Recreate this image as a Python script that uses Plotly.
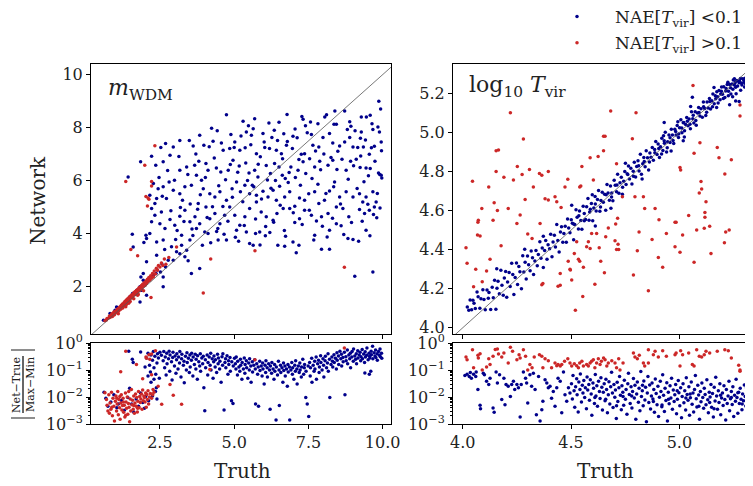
import plotly.graph_objects as go

FONT = "DejaVu Serif"
BLUE = "#00008b"
RED = "#cc2727"

# ---------------- data ----------------
# Top-left: m_WDM  (truth, network), coloured by NAE[T_vir]
mwdm_lo = [
(4.74,8.49),(5.30,8.24),(5.69,8.34),(5.64,7.96),(5.41,7.84),(5.58,7.71),(6.78,8.5),(6.51,8.2),(7.32,8.32),(7.40,8.07),
(7.60,7.74),(7.82,8.15),(8.36,8.13),(8.39,8.63),(8.72,8.63),(8.89,8.22),(9.28,8.40),(9.45,8.40),(9.64,8.15),(9.67,7.93),
(9.87,9.0),(9.89,7.84),(9.95,7.46),(4.24,7.98),(3.62,7.31),(2.95,7.27),(2.69,7.40),(2.53,7.25),(3.17,7.52),(3.49,7.52),
(3.84,7.71),(4.29,7.49),(4.63,7.15),(4.85,7.21),(4.89,7.74),(5.0,7.25),(5.19,7.15),(5.37,7.24),(5.75,7.02),(5.88,6.90),
(6.03,7.25),(6.19,7.21),(6.42,7.15),(6.59,7.02),(6.76,7.34),(6.96,7.21),(7.18,6.80),(7.26,7.0),(7.37,7.02),(7.65,7.34),
(7.99,7.63),(8.21,7.78),(8.32,7.42),(8.55,7.31),(8.72,7.46),(8.89,7.63),(9.00,7.27),(9.16,7.25),(9.35,7.27),(9.55,7.0),
(9.72,7.30),(9.28,7.84),(8.44,8.13),(7.85,7.27),(6.98,7.68),(5.97,7.78),(5.02,7.46),(3.98,7.34),(2.61,6.71),(2.84,6.96),
(2.22,6.92),(3.17,6.39),(3.40,6.52),(3.81,6.73),(4.05,6.65),(4.12,6.39),(4.40,6.48),(4.55,6.33),(4.80,6.39),(4.96,6.77),
(5.17,6.55),(5.39,6.67),(5.50,6.29),(5.69,6.39),(5.80,6.14),(6.08,6.57),(6.22,6.27),(6.36,6.65),(6.51,6.52),(6.62,6.21),
(6.72,6.08),(6.85,6.31),(7.15,6.39),(7.32,6.71),(7.54,6.83),(7.71,6.52),(7.88,6.73),(8.16,6.58),(8.32,6.77),(8.46,6.42),
(8.77,6.39),(8.92,6.73),(9.11,6.81),(9.24,6.50),(9.44,6.48),(9.58,6.46),(9.86,6.29),(9.95,6.21),(9.90,6.23),(2.28,5.89),
(2.44,5.70),(2.39,5.33),(2.61,5.77),(2.72,5.33),(2.95,5.64),(3.17,5.51),(3.34,5.77),(3.56,5.83),(3.73,6.21),(3.90,6.02),
(3.96,5.70),(3.79,5.14),(4.05,5.01),(4.18,5.51),(4.35,5.39),(4.52,5.58),(4.74,5.26),(4.93,5.70),(5.08,5.95),(5.21,5.58),
(5.36,5.83),(5.52,5.51),(5.66,5.77),(5.75,5.45),(5.97,5.60),(6.14,5.39),(6.31,5.64),(6.42,5.26),(6.53,5.79),(6.70,5.39),
(6.87,5.58),(7.04,5.04),(7.20,5.35),(7.37,5.26),(7.51,5.51),(7.71,5.58),(7.85,5.14),(8.04,5.26),(8.21,5.61),(8.35,5.77),
(8.55,5.39),(8.77,5.58),(9.0,5.39),(9.22,5.51),(9.33,5.20),(9.44,5.39),(9.67,5.58),(9.78,5.20),(9.55,4.89),(9.39,4.76),
(9.22,4.91),(9.72,5.01),(9.50,5.11),(8.66,4.95),(8.86,4.64),(8.44,5.01),(8.16,4.76),(7.94,4.64),(7.77,4.48),(7.60,4.70),
(7.37,4.89),(7.20,4.57),(7.04,4.42),(6.87,4.95),(6.65,4.95),(6.44,4.76),(6.31,4.51),(6.08,4.64),(5.91,4.82),(5.75,5.20),
(5.52,4.95),(5.36,4.64),(5.19,4.32),(5.02,4.70),(4.85,5.01),(4.68,4.70),(4.52,4.38),(4.35,4.76),(4.18,4.57),(4.01,4.07),
(3.84,4.38),(3.68,4.64),(3.51,4.45),(3.34,4.89),(3.17,4.66),(3.0,4.32),(2.84,4.54),(2.67,4.20),(2.50,4.38),(2.33,4.70),
(2.22,4.45),(2.16,4.01),(2.05,3.82),(2.22,4.95),(2.33,5.14),(2.16,5.45),(2.03,3.94),(1.96,3.67),(2.39,3.69),(2.61,3.76),
(2.89,3.51),(3.23,3.94),(3.51,3.76),(3.73,4.20),(4.12,4.01),(4.46,3.76),(4.74,3.76),(5.08,4.13),(5.41,4.07),(5.52,3.63),
(5.64,3.57),(5.86,4.07),(6.47,3.57),(6.73,3.91),(6.98,3.69),(7.09,3.28),(7.18,3.57),(7.71,3.94),(7.94,3.42),(8.21,4.13),
(8.44,4.38),(8.83,3.82),(9.0,3.78),(9.44,4.13),(9.67,2.56),(9.06,2.40),(8.21,3.42),(6.70,3.53),(6.05,3.92),(5.72,4.01),
(3.17,3.25),(3.34,3.13),(3.45,2.98),(3.40,3.38),(3.23,3.57),(3.06,3.32),(2.95,3.0),(2.78,3.0),(2.69,2.75),(2.56,2.88),
(2.41,2.63),(2.37,2.50),(2.61,2.37),(2.52,2.56),(2.28,2.44),(2.39,3.19),(2.05,2.94),(1.94,2.50),(1.86,2.37),(1.94,2.25),
(2.11,2.25),(1.83,2.0),(1.72,1.87),(1.88,1.87),(1.58,1.75),(1.49,1.62),(1.83,1.43),(2.05,1.68),(1.38,1.43),(1.04,1.24),
(0.82,0.99),(0.60,0.74),(0.99,1.12),(1.60,3.50),(1.43,6.14),(1.85,6.71),(1.57,3.98),(2.61,2.0),(3.84,2.69),(3.56,2.50),
(6.35,7.90),(7.05,7.95),(8.05,8.40),(9.25,7.60),(9.93,8.70),(9.97,6.10),(9.80,4.60),(8.60,4.30),(6.20,4.05),(4.45,4.20),
(2.47,6.12),(2.58,5.41),(2.76,6.38),(2.87,4.87),(2.99,6.02),(3.08,4.12),(3.14,6.91),(3.26,5.26),(3.31,4.46),(3.44,6.23),
(3.52,5.12),(3.61,3.93),(3.67,6.58),(3.77,4.92),(3.86,5.47),(3.93,3.57),(4.03,6.12),(4.09,4.61),(4.16,7.28),(4.27,5.02),
(4.33,6.86),(4.41,4.08),(4.48,5.81),(4.57,7.42),(4.62,5.03),(4.71,6.04),(4.79,4.47),(4.87,6.61),(4.94,5.38),(5.04,3.87),
(5.12,6.32),(5.23,7.69),(5.29,5.21),(5.34,4.31),(5.45,6.01),(5.56,7.36),(5.61,5.83),(5.72,4.56),(5.81,6.62),(5.92,5.31),
(6.01,7.46),(6.06,4.27),(6.12,6.03),(6.24,5.72),(6.27,7.63),(6.33,4.43),(6.39,6.01),(6.46,7.52),(6.55,5.07),(6.63,6.83),
(6.69,4.12),(6.79,7.48),(6.82,5.93),(6.91,6.52),(6.99,4.79),(7.06,6.12),(7.12,7.62),(7.23,5.83),(7.29,4.35),(7.41,6.27),
(7.46,7.81),(7.53,4.89),(7.62,6.08),(7.68,3.76),(7.74,7.12),(7.82,5.87),(7.91,6.41),(7.97,4.28),(8.02,7.01),(8.09,5.52),
(8.13,3.88),(8.26,6.87),(8.31,4.58),(8.38,5.95),(8.49,7.11),(8.58,5.12),(8.63,6.81),(8.69,3.97),(8.81,7.93),(8.84,6.05),
(8.95,4.42),(9.02,6.56),(9.07,7.88),(9.14,5.71),(9.19,3.72),(9.26,6.93),(9.31,4.47),(9.37,5.96),(9.42,7.53),(9.52,6.19),
(9.57,3.92),(9.62,7.24),(9.69,4.73),(9.74,6.73),(9.82,5.52),(9.84,8.02),(9.91,4.97),(9.96,7.13),(2.36,6.58),(2.55,4.82),
(2.66,3.41),(2.81,5.95),(3.03,3.78),(3.19,4.99),(3.58,4.18),(3.71,7.01),(4.21,3.66),(4.43,7.88),(4.66,3.98),(5.15,3.72),
(5.48,8.07),(5.87,3.58),(6.17,8.18),(6.67,7.77),(7.28,8.42),(7.57,8.21),(8.11,8.49),(8.93,8.05),(9.58,8.47),
]
mwdm_hi = [
(0.65,0.72),(0.70,0.75),(0.72,0.80),(0.78,0.82),(0.80,0.90),(0.83,0.85),(0.86,0.93),(0.88,0.98),(0.90,0.88),(0.93,1.00),
(0.95,1.05),(0.97,0.95),(1.00,1.08),(1.02,1.02),(1.05,1.12),(1.07,1.15),(1.08,1.05),(1.10,1.18),(1.12,1.10),(1.14,1.22),
(1.16,1.25),(1.18,1.15),(1.20,1.30),(1.22,1.24),(1.24,1.35),(1.25,1.20),(1.27,1.32),(1.29,1.40),(1.30,1.28),(1.32,1.45),
(1.34,1.38),(1.36,1.48),(1.37,1.33),(1.39,1.52),(1.40,1.42),(1.42,1.55),(1.44,1.47),(1.46,1.60),(1.47,1.50),(1.49,1.62),
(1.50,1.45),(1.52,1.66),(1.54,1.58),(1.56,1.70),(1.58,1.62),(1.60,1.73),(1.62,1.55),(1.63,1.78),(1.65,1.70),(1.67,1.82),
(1.69,1.75),(1.71,1.86),(1.73,1.78),(1.75,1.90),(1.77,1.72),(1.79,1.95),(1.81,1.85),(1.83,1.98),(1.85,1.90),(1.88,2.05),
(1.90,1.95),(1.92,2.10),(1.95,2.02),(1.97,2.15),(2.00,2.05),(2.03,2.22),(2.05,2.12),(2.08,2.28),(2.10,2.20),(2.13,2.35),
(2.16,2.25),(2.19,2.42),(2.22,2.32),(2.25,2.50),(2.28,2.38),(2.31,2.60),(2.35,2.48),(2.38,2.70),(2.42,2.62),(2.45,2.80),
(2.50,2.75),(2.55,2.90),(2.60,2.80),(2.65,3.05),(1.10,0.98),(0.92,0.92),(1.45,1.38),(1.95,1.85),(1.35,1.25),(1.75,1.68),
(1.35,5.97),(1.99,6.58),(2.33,7.32),(2.22,5.97),(2.22,5.80),(2.13,5.30),(2.08,5.05),(2.03,5.40),(2.10,5.35),(1.52,3.41),
(1.75,3.17),(4.21,3.05),(5.70,3.36),(3.96,1.77),(8.71,2.74),(2.20,1.60),(3.06,3.50),(2.70,2.85),(2.80,3.10),
]

# Top-right: log10 T_vir (truth, network)
tvir_lo = [
(4.021,4.106),(4.028,4.090),(4.034,4.142),(4.041,4.092),(4.047,4.141),(4.052,4.125),(4.058,4.099),(4.066,4.183),(4.071,4.159),(4.079,4.100),
(4.084,4.148),(4.093,4.195),(4.098,4.145),(4.104,4.092),(4.112,4.193),(4.118,4.151),(4.121,4.180),(4.129,4.094),(4.136,4.207),(4.141,4.153),
(4.147,4.243),(4.153,4.095),(4.158,4.202),(4.163,4.238),(4.169,4.174),(4.176,4.294),(4.181,4.217),(4.187,4.166),(4.192,4.254),(4.198,4.288),
(4.203,4.156),(4.207,4.234),(4.214,4.283),(4.219,4.211),(4.226,4.330),(4.231,4.272),(4.236,4.170),(4.242,4.257),(4.248,4.331),(4.253,4.222),
(4.259,4.314),(4.264,4.286),(4.271,4.199),(4.277,4.368),(4.282,4.285),(4.288,4.335),(4.293,4.249),(4.299,4.367),(4.304,4.322),(4.311,4.292),
(4.316,4.393),(4.322,4.358),(4.327,4.273),(4.333,4.342),(4.338,4.396),(4.344,4.317),(4.349,4.375),(4.356,4.440),(4.361,4.356),(4.367,4.408),
(4.372,4.309),(4.378,4.395),(4.383,4.446),(4.389,4.351),(4.394,4.425),(4.401,4.404),(4.406,4.478),(4.412,4.363),(4.417,4.439),(4.423,4.474),
(4.428,4.413),(4.434,4.528),(4.439,4.447),(4.445,4.388),(4.451,4.490),(4.456,4.517),(4.462,4.438),(4.467,4.482),(4.473,4.519),(4.478,4.437),
(4.484,4.557),(4.489,4.510),(4.495,4.486),(4.501,4.553),(4.506,4.535),(4.512,4.450),(4.517,4.528),(4.523,4.604),(4.528,4.565),(4.534,4.506),
(4.539,4.597),(4.545,4.549),(4.550,4.504),(4.556,4.622),(4.561,4.585),(4.567,4.554),(4.572,4.619),(4.578,4.661),(4.583,4.550),(4.589,4.607),
(4.594,4.636),(4.600,4.548),(4.605,4.613),(4.611,4.672),(4.616,4.597),(4.622,4.656),(4.627,4.703),(4.633,4.596),(4.638,4.651),(4.644,4.693),
(4.649,4.643),(4.655,4.683),(4.660,4.602),(4.666,4.733),(4.671,4.690),(4.677,4.652),(4.682,4.726),(4.688,4.690),(4.693,4.650),(4.699,4.755),
(4.704,4.729),(4.710,4.696),(4.715,4.786),(4.721,4.689),(4.726,4.742),(4.732,4.770),(4.737,4.683),(4.743,4.750),(4.748,4.800),(4.754,4.733),
(4.759,4.788),(4.765,4.828),(4.770,4.762),(4.776,4.817),(4.781,4.736),(4.787,4.801),(4.792,4.847),(4.798,4.771),(4.803,4.825),(4.809,4.855),
(4.814,4.802),(4.820,4.888),(4.825,4.786),(4.831,4.840),(4.836,4.871),(4.842,4.824),(4.847,4.906),(4.853,4.870),(4.858,4.807),(4.864,4.895),
(4.869,4.873),(4.875,4.923),(4.880,4.857),(4.886,4.912),(4.891,4.953),(4.897,4.887),(4.902,4.941),(4.908,4.872),(4.913,4.926),(4.919,4.970),
(4.924,4.907),(4.930,4.957),(4.935,5.001),(4.941,4.899),(4.946,4.952),(4.952,4.986),(4.957,4.948),(4.963,5.016),(4.968,4.987),(4.974,4.943),
(4.979,5.016),(4.985,4.987),(4.990,5.035),(4.996,4.974),(5.001,5.024),(5.007,5.065),(5.012,4.998),(5.018,5.049),(5.023,4.976),(5.029,5.040),
(5.034,5.076),(5.040,5.034),(5.045,5.069),(5.051,5.018),(5.056,5.105),(5.062,5.070),(5.067,5.048),(5.073,5.106),(5.078,5.037),(5.084,5.099),
(5.089,5.127),(5.095,5.084),(5.100,5.121),(5.106,5.078),(5.111,5.155),(5.117,5.122),(5.122,5.086),(5.128,5.155),(5.133,5.125),(5.139,5.174),
(5.144,5.120),(5.150,5.162),(5.155,5.196),(5.161,5.146),(5.166,5.188),(5.172,5.127),(5.177,5.183),(5.183,5.214),(5.188,5.167),(5.194,5.211),
(5.199,5.195),(5.205,5.233),(5.210,5.178),(5.216,5.225),(5.221,5.245),(5.227,5.210),(5.232,5.245),(5.238,5.197),(5.243,5.247),(5.249,5.268),
(5.254,5.242),(5.260,5.231),(5.265,5.266),(5.271,5.263),(5.276,5.254),(5.282,5.276),(5.287,5.252),(5.293,5.275),(5.298,5.257),(5.304,5.277),
(5.309,5.258),(5.315,5.281),(5.318,5.260),
(5.112,5.131),(5.126,5.103),(5.141,5.158),(5.153,5.131),(5.168,5.172),(5.179,5.151),(5.191,5.196),(5.203,5.174),(5.214,5.212),(5.226,5.188),
(5.236,5.229),(5.247,5.221),(5.258,5.255),(5.269,5.238),(5.278,5.262),(5.289,5.243),(5.297,5.268),(5.306,5.249),(5.312,5.271),(5.246,5.182),
(5.283,5.215),(5.301,5.232),(5.262,5.198),(5.224,5.257),(5.195,5.232),(5.232,5.142),(5.276,5.158),(5.311,5.225),(5.254,5.274),(5.173,5.208),
(4.905,4.918),(4.918,4.889),(4.931,4.944),(4.944,4.921),(4.957,4.972),(4.971,4.959),(4.983,5.004),(4.997,4.992),(5.011,5.023),(5.024,5.008),
(5.037,5.057),(5.049,5.041),(5.064,5.088),(5.076,5.061),(5.091,5.102),(4.962,4.905),(5.018,4.957),(5.052,5.132),(4.993,5.054),(4.927,4.983),
(4.512,4.531),(4.536,4.573),(4.561,4.548),(4.586,4.592),(4.612,4.633),(4.636,4.618),(4.662,4.681),(4.687,4.669),(4.712,4.731),(4.738,4.719),
(4.762,4.784),(4.788,4.776),(4.812,4.829),(4.838,4.851),(4.862,4.848),(4.887,4.896),(4.598,4.681),(4.684,4.612),(4.751,4.842),(4.828,4.761),
(4.503,4.627),(4.372,4.468),(4.286,4.402),(4.612,4.521),(4.157,4.302),(4.93,5.05),(5.02,5.05),(5.06,5.18),(5.16,5.23),(5.26,5.16),
]
tvir_hi = [
(4.015,4.41),(4.02,4.33),(4.045,4.75),(4.05,4.21),(4.06,4.30),(4.068,4.475),(4.07,4.54),(4.072,4.55),(4.08,4.47),(4.088,4.61),
(4.09,4.235),(4.11,4.29),(4.12,4.72),(4.126,4.35),(4.14,4.55),(4.145,4.64),(4.154,4.906),(4.165,4.91),(4.154,4.80),(4.16,4.60),
(4.177,4.42),(4.19,4.77),(4.21,4.61),(4.22,5.10),(4.234,4.756),(4.25,4.534),(4.252,4.825),(4.265,4.577),(4.274,4.785),(4.28,4.966),
(4.288,4.657),(4.30,4.48),(4.308,4.81),(4.32,4.457),(4.326,4.72),(4.354,4.79),(4.357,4.534),(4.365,4.78),(4.365,4.22),(4.37,4.227),
(4.38,4.66),(4.395,4.80),(4.395,4.654),(4.426,4.67),(4.434,4.645),(4.44,4.213),(4.45,4.278),(4.45,4.218),(4.454,4.616),(4.472,4.72),
(4.485,4.76),(4.487,4.34),(4.495,4.30),(4.497,4.295),(4.503,4.244),(4.515,4.38),(4.52,4.09),(4.526,4.44),(4.534,4.35),(4.54,4.72),
(4.545,4.725),(4.54,4.34),(4.55,4.825),(4.554,4.16),(4.557,4.31),(4.572,4.415),(4.58,4.44),(4.588,4.406),(4.588,4.87),(4.595,4.483),
(4.603,4.756),(4.61,4.223),(4.618,4.483),(4.625,4.876),(4.63,4.41),(4.637,4.341),(4.65,4.906),(4.65,4.98),(4.657,4.98),(4.654,4.282),
(4.66,4.466),(4.672,4.51),(4.683,5.11),(4.703,4.445),(4.706,4.531),(4.71,4.84),(4.71,4.40),(4.715,4.56),(4.717,4.427),(4.72,4.40),
(4.737,4.67),(4.783,4.968),(4.788,4.27),(4.795,4.67),(4.80,5.10),(4.806,4.394),(4.814,4.49),(4.834,4.67),(4.84,4.61),(4.857,4.19),
(4.874,4.452),(4.888,4.61),(4.903,4.36),(4.906,4.553),(4.923,4.31),(4.94,4.483),(4.98,4.54),(4.985,4.54),(4.98,4.415),(5.003,4.386),
(5.003,4.82),(5.006,4.807),(5.015,4.475),(5.043,4.574),(5.068,4.893),(5.068,4.335),(5.08,4.50),(5.092,4.69),(5.095,4.947),(5.10,4.748),
(5.103,4.71),(5.115,4.509),(5.118,4.59),(5.118,4.565),(5.123,4.645),(5.14,4.52),(5.146,4.38),(5.175,4.923),(5.183,4.87),(5.21,4.787),
(5.208,4.435),(5.214,4.49),(5.23,4.50),(5.24,4.86),(5.063,5.24),(5.28,5.084),(5.28,5.14),
]

# Bottom-left: m_WDM residual |Net-True|/(Max-Min)
mres_lo = [
(0.62,0.015),(0.68,0.009),(0.75,0.0045),(0.85,0.0065),(0.95,0.012),(1.05,0.004),(1.20,0.0075),(1.30,0.0032),(1.42,0.0095),(1.55,0.0055),
(1.62,0.0028),(1.70,0.0085),(1.78,0.0045),(1.85,0.014),(1.92,0.0062),(2.02,0.0105),(1.48,0.021),(1.10,0.0055),(1.98,0.0038),(2.12,0.0072),
(2.25,0.011),(2.35,0.016),(2.40,0.0085),
(1.45,0.50),(1.85,0.46),(1.57,0.25),(1.60,0.19),(2.05,0.28),(2.1,0.42),(2.15,0.15),(2.18,0.085),(2.2,0.36),(2.25,0.23),
(2.28,0.48),(2.3,0.12),(2.33,0.32),(2.36,0.07),(2.4,0.18),(2.42,0.40),(2.45,0.28),(2.48,0.05),(2.5,0.45),(2.2,0.035),
(2.3,0.045),(2.38,0.022),(2.0,0.13),(2.1,0.06),
(2.55,0.35),(2.61,0.22),(2.63,0.48),(2.66,0.12),(2.68,0.30),(2.71,0.065),(2.73,0.42),(2.74,0.17),(2.79,0.26),(2.81,0.50),
(2.83,0.09),(2.84,0.36),(2.89,0.20),(2.91,0.043),(2.93,0.29),(2.94,0.45),(2.99,0.14),(3.01,0.33),(3.04,0.075),(3.06,0.24),
(3.07,0.40),(3.11,0.11),(3.13,0.30),(3.16,0.18),(3.17,0.48),(3.21,0.055),(3.23,0.26),(3.24,0.38),(3.29,0.15),(3.31,0.21),
(3.32,0.034),(3.36,0.32),(3.39,0.10),(3.41,0.44),(3.42,0.19),(3.46,0.27),(3.49,0.08),(3.51,0.36),(3.52,0.13),(3.56,0.23),
(3.57,0.42),(3.61,0.06),(3.62,0.30),(3.66,0.16),(3.69,0.38),(3.71,0.11),(3.72,0.25),(3.76,0.045),(3.77,0.34),(3.81,0.20),
(3.84,0.14),(3.86,0.40),(3.87,0.09),(3.91,0.28),(3.94,0.17),(3.96,0.32),(3.98,0.022),(4.01,0.0031),(4.03,0.24),(4.04,0.12),
(4.09,0.36),(4.11,0.065),(4.12,0.19),(4.16,0.30),(4.19,0.15),(4.21,0.42),(4.22,0.10),(4.26,0.26),(4.29,0.05),(4.31,0.20),
(4.32,0.33),(4.36,0.13),(4.37,0.24),(4.41,0.08),(4.44,0.38),(4.46,0.17),(4.47,0.28),(4.51,0.11),(4.52,0.21),(4.56,0.035),
(4.59,0.31),(4.61,0.15),(4.62,0.40),(4.66,0.0033),(4.69,0.19),(4.71,0.26),(4.72,0.12),(4.76,0.34),(4.79,0.07),(4.81,0.22),
(4.82,0.16),(4.86,0.29),(4.87,0.09),(4.91,0.0072),(4.92,0.20),(4.96,0.0058),(4.97,0.14),(5.01,0.27),
(5.04,0.17),(5.06,0.11),(5.07,0.30),(5.11,0.065),(5.12,0.21),(5.16,0.13),(5.19,0.09),(5.21,0.25),(5.22,0.15),(5.26,0.045),
(5.27,0.19),(5.31,0.11),(5.34,0.28),(5.36,0.075),(5.37,0.16),(5.41,0.22),(5.42,0.12),(5.46,0.05),(5.49,0.18),(5.51,0.10),
(5.52,0.26),(5.56,0.14),(5.57,0.035),(5.61,0.20),(5.62,0.085),(5.66,0.15),(5.69,0.24),(5.71,0.11),(5.72,0.0055),(5.76,0.17),
(5.79,0.07),(5.81,0.13),(5.82,0.0045),(5.86,0.21),(5.87,0.095),(5.91,0.14),(5.94,0.06),(5.96,0.18),(5.97,0.11),(6.01,0.03),
(6.04,0.15),(6.06,0.08),(6.07,0.22),(6.11,0.12),(6.12,0.055),(6.16,0.17),(6.19,0.10),(6.21,0.0035),(6.22,0.14),(6.26,0.075),
(6.27,0.19),(6.31,0.11),(6.34,0.045),(6.36,0.16),(6.37,0.09),(6.41,0.0014),(6.42,0.13),(6.46,0.065),(6.49,0.21),(6.51,0.10),
(6.52,0.0048),(6.56,0.15),(6.57,0.08),(6.61,0.12),(6.64,0.035),(6.66,0.18),(6.67,0.095),(6.71,0.14),(6.72,0.06),(6.76,0.11),
(6.79,0.025),(6.81,0.16),(6.82,0.085),(6.86,0.13),(6.87,0.0014),(6.91,0.10),(6.94,0.19),(6.96,0.07),(6.97,0.12),(7.01,0.045),
(7.04,0.15),(7.06,0.09),(7.07,0.22),(7.11,0.11),(7.12,0.03),(7.16,0.14),(7.19,0.08),(7.21,0.18),(7.22,0.10),(7.26,0.055),
(7.27,0.13),(7.31,0.25),(7.34,0.07),(7.36,0.12),(7.37,0.16),(7.41,0.0095),(7.42,0.09),(7.46,0.0055),(7.49,0.14),(7.51,0.0019),
(7.54,0.19),(7.56,0.06),(7.57,0.12),(7.61,0.27),(7.62,0.035),(7.66,0.15),(7.69,0.09),(7.71,0.21),(7.72,0.11),(7.76,0.30),
(7.77,0.045),(7.81,0.17),(7.84,0.23),(7.86,0.08),(7.87,0.13),(7.91,0.34),(7.92,0.19),(7.96,0.10),(7.99,0.26),(8.01,0.15),
(8.02,0.055),(8.06,0.22),(8.07,0.32),(8.11,0.12),(8.14,0.18),(8.16,0.40),(8.17,0.09),(8.21,0.25),(8.22,0.0095),(8.26,0.16),
(8.29,0.30),(8.31,0.21),(8.32,0.13),(8.36,0.37),(8.37,0.19),(8.41,0.27),(8.44,0.11),(8.46,0.44),(8.47,0.23),(8.51,0.33),
(8.52,0.16),(8.56,0.50),(8.59,0.26),(8.61,0.38),(8.62,0.14),(8.66,0.29),(8.67,0.20),(8.71,0.45),(8.73,0.012),(8.76,0.31),
(8.77,0.22),(8.81,0.55),(8.82,0.17),(8.86,0.36),(8.89,0.26),(8.91,0.42),(8.92,0.12),(8.96,0.30),(8.97,0.48),(9.01,0.21),
(9.02,0.60),(9.06,0.33),(9.09,0.25),(9.11,0.40),(9.12,0.17),(9.16,0.52),(9.17,0.28),(9.21,0.36),(9.24,0.45),(9.26,0.22),
(9.27,0.31),(9.31,0.58),(9.32,0.26),(9.36,0.39),(9.39,0.19),(9.41,0.47),(9.42,0.30),(9.46,0.35),(9.47,0.65),(9.51,0.24),
(9.54,0.42),(9.56,0.32),(9.57,0.28),(9.61,0.50),(9.62,0.37),(9.66,0.75),(9.67,0.26),(9.71,0.44),(9.74,0.33),(9.76,0.55),
(9.77,0.29),(9.81,0.40),(9.82,0.23),(9.86,0.48),(9.89,0.35),(9.91,0.60),(9.92,0.31),(9.96,0.42),(9.97,0.27),(9.6,0.09),
(9.55,0.07),(9.4,0.078),
]
mres_hi = [
(0.65,0.0145),(0.70,0.008),(0.72,0.005),(0.75,0.003),(0.78,0.012),(0.80,0.0025),(0.82,0.006),(0.85,0.0035),(0.87,0.015),(0.90,0.002),
(0.92,0.009),(0.95,0.0045),(0.97,0.0013),(1.00,0.007),(1.02,0.011),(1.04,0.003),(1.06,0.0055),(1.08,0.016),(1.10,0.0022),(1.12,0.008),
(1.14,0.004),(1.16,0.0015),(1.18,0.006),(1.20,0.012),(1.22,0.0033),(1.24,0.0048),(1.26,0.009),(1.28,0.0027),(1.30,0.005),(1.32,0.0018),
(1.34,0.014),(1.36,0.0065),(1.38,0.0038),(1.40,0.010),(1.42,0.0023),(1.44,0.0058),(1.46,0.0042),(1.48,0.0012),(1.50,0.0085),(1.52,0.003),
(1.54,0.019),(1.56,0.0052),(1.58,0.0075),(1.60,0.0035),(1.62,0.011),(1.64,0.0025),(1.66,0.006),(1.68,0.013),(1.70,0.0045),(1.72,0.0095),
(1.74,0.0028),(1.76,0.007),(1.78,0.016),(1.80,0.004),(1.82,0.0105),(1.84,0.0062),(1.86,0.0085),(1.88,0.013),(1.90,0.0035),(1.92,0.018),
(1.94,0.0072),(1.96,0.011),(1.98,0.0095),(2.00,0.0065),(2.02,0.014),(2.04,0.0042),(2.06,0.0125),(2.08,0.008),(2.10,0.017),(2.12,0.0055),
(2.15,0.01),(2.18,0.0135),(2.22,0.009),(2.26,0.012),(2.30,0.015),(1.05,0.009),(1.27,0.0065),(1.45,0.016),(0.88,0.0042),(1.15,0.0105),
(1.62,0.0048),(1.35,0.0021),(1.75,0.0038),
(1.35,0.49),(1.18,0.087),(1.71,0.16),(2.03,0.30),(2.13,0.37),(2.22,0.39),(2.35,0.52),(2.16,0.25),(2.22,0.066),(2.44,0.025),
(2.84,0.029),(2.95,0.0115),(4.18,0.105),(5.70,0.24),(8.71,0.65),(3.23,0.0054),(2.56,0.0054),(2.27,0.019),(2.05,0.27),(1.92,0.047),
]

# Bottom-right: T_vir residual
tres_lo = [
(4.01,0.062),(4.02,0.07),(4.03,0.058),(4.035,0.08),(4.04,0.05),(4.05,0.07),(4.06,0.058),(4.062,0.085),(4.07,0.019),(4.08,0.0049),
(4.082,0.0037),(4.095,0.075),(4.10,0.066),(4.11,0.038),(4.12,0.029),(4.126,0.05),(4.14,0.0039),(4.145,0.0027),(4.154,0.085),(4.16,0.033),
(4.17,0.066),(4.18,0.008),(4.19,0.05),(4.195,0.0052),(4.20,0.029),(4.21,0.025),(4.22,0.0105),(4.226,0.029),(4.234,0.038),(4.24,0.019),
(4.25,0.029),(4.257,0.022),(4.265,0.0018),(4.27,0.029),(4.28,0.085),(4.29,0.05),(4.295,0.033),(4.30,0.006),(4.31,0.066),(4.318,0.025),
(4.326,0.075),(4.334,0.019),(4.34,0.0022),(4.35,0.058),(4.357,0.0013),(4.365,0.0034),(4.37,0.007),(4.38,0.044),(4.388,0.033),(4.395,0.022),
(4.403,0.025),(4.41,0.009),(4.418,0.016),(4.426,0.0045),(4.434,0.022),(4.44,0.05),(4.45,0.038),(4.457,0.0026),(4.465,0.085),(4.472,0.012),
(4.48,0.007),(4.488,0.022),(4.495,0.014),
(4.502,0.031),(4.506,0.0085),(4.509,0.062),(4.514,0.017),(4.517,0.0042),(4.521,0.024),(4.526,0.047),(4.528,0.012),(4.533,0.0028),(4.536,0.036),
(4.541,0.019),(4.543,0.071),(4.548,0.0065),(4.552,0.027),(4.555,0.014),(4.559,0.041),(4.563,0.0095),(4.566,0.022),(4.571,0.0037),(4.574,0.055),
(4.577,0.018),(4.582,0.029),(4.585,0.0075),(4.589,0.044),(4.593,0.013),(4.596,0.0021),(4.601,0.033),(4.604,0.021),(4.608,0.0058),(4.612,0.068),
(4.615,0.011),(4.619,0.026),(4.622,0.0045),(4.627,0.038),(4.631,0.016),(4.634,0.0088),(4.638,0.052),(4.642,0.023),(4.645,0.0033),(4.649,0.015),
(4.653,0.031),(4.657,0.0072),(4.661,0.045),(4.664,0.019),(4.668,0.0026),(4.672,0.012),(4.675,0.037),(4.679,0.0055),(4.683,0.024),(4.687,0.082),
(4.691,0.014),(4.694,0.0041),(4.698,0.029),(4.702,0.0097),(4.705,0.018),(4.709,0.0016),(4.713,0.035),(4.716,0.0068),(4.721,0.022),(4.724,0.057),
(4.728,0.0115),(4.732,0.0034),(4.735,0.026),(4.739,0.015),(4.743,0.0049),(4.746,0.042),(4.751,0.0083),(4.754,0.019),(4.758,0.0023),(4.762,0.031),
(4.765,0.075),(4.769,0.0125),(4.773,0.0057),(4.777,0.024),(4.781,0.0039),(4.784,0.016),(4.788,0.048),(4.792,0.0092),(4.795,0.027),(4.799,0.0015),
(4.803,0.013),(4.806,0.036),(4.811,0.0064),(4.814,0.021),(4.818,0.0031),(4.822,0.088),(4.825,0.0105),(4.829,0.017),(4.833,0.0047),(4.836,0.039),
(4.841,0.0078),(4.844,0.023),(4.848,0.0012),(4.852,0.014),(4.855,0.058),(4.859,0.0062),(4.863,0.028),(4.867,0.0036),(4.871,0.011),(4.874,0.033),
(4.878,0.0085),(4.882,0.019),(4.885,0.0027),(4.889,0.046),(4.893,0.0135),(4.897,0.0052),(4.901,0.025),(4.904,0.0019),(4.908,0.0098),(4.912,0.038),
(4.915,0.016),(4.919,0.0044),(4.923,0.067),(4.927,0.0115),(4.931,0.0029),(4.934,0.021),(4.938,0.0074),(4.942,0.034),(4.945,0.0013),(4.949,0.015),
(4.953,0.0056),(4.957,0.026),(4.961,0.0091),(4.964,0.049),(4.968,0.0035),(4.972,0.018),(4.976,0.0068),(4.979,0.012),(4.983,0.029),(4.987,0.0024),
(4.991,0.0082),(4.995,0.041),(4.998,0.0145),(5.002,0.0047),(5.006,0.022),(5.01,0.0017),(5.013,0.0105),(5.017,0.031),(5.021,0.0061),(5.025,0.017),
(5.029,0.0033),(5.032,0.052),(5.036,0.0125),(5.04,0.0076),(5.044,0.024),(5.047,0.0021),(5.051,0.0094),(5.055,0.036),(5.059,0.0054),(5.063,0.014),
(5.066,0.0028),(5.07,0.019),(5.074,0.062),(5.078,0.0087),(5.081,0.0043),(5.085,0.027),(5.089,0.0118),(5.093,0.0015),(5.097,0.016),(5.1,0.0066),
(5.104,0.033),(5.108,0.0096),(5.112,0.0038),(5.115,0.021),(5.119,0.0125),(5.123,0.0052),(5.127,0.044),(5.131,0.0079),(5.134,0.0026),(5.138,0.015),
(5.142,0.0099),(5.146,0.029),(5.149,0.0042),(5.153,0.0135),(5.157,0.0018),(5.161,0.023),(5.165,0.0071),(5.168,0.054),(5.172,0.0108),(5.176,0.0035),
(5.18,0.017),(5.183,0.0063),(5.187,0.031),(5.191,0.0022),(5.195,0.0092),(5.199,0.014),(5.202,0.0048),(5.206,0.026),(5.21,0.0081),(5.214,0.0014),
(5.217,0.019),(5.221,0.0058),(5.225,0.011),(5.229,0.038),(5.232,0.0031),(5.236,0.0087),(5.24,0.016),(5.244,0.0053),(5.247,0.024),(5.251,0.0019),
(5.255,0.0115),(5.259,0.0069),(5.262,0.045),(5.266,0.0096),(5.27,0.0025),(5.274,0.015),(5.277,0.0057),(5.281,0.021),(5.285,0.0083),(5.289,0.0034),
(5.292,0.013),(5.296,0.0072),(5.3,0.028),(5.304,0.0105),(5.307,0.0046),(5.311,0.018),(5.315,0.0089),(5.318,0.035),(5.321,0.0125),(5.323,0.0064),
(4.61,0.0095),(4.71,0.0047),(4.83,0.027),(4.95,0.0083),(5.05,0.013),(5.14,0.0062),(5.24,0.0095),(5.31,0.022),(4.78,0.011),(4.88,0.0068),
(4.99,0.017),(5.09,0.0045),(5.19,0.0115),(5.29,0.0055),(4.66,0.0082),(4.74,0.0105),(4.92,0.0051),(5.03,0.0092),(5.16,0.0037),(5.27,0.0145),
]
tres_hi = [
(4.015,0.30),(4.02,0.24),(4.045,0.56),(4.05,0.12),(4.07,0.35),(4.072,0.28),(4.08,0.40),(4.09,0.10),(4.11,0.13),(4.12,0.26),
(4.126,0.16),(4.14,0.32),(4.15,0.57),(4.16,0.60),(4.165,0.39),(4.18,0.30),(4.19,0.43),(4.21,0.18),(4.22,0.69),(4.23,0.49),
(4.25,0.24),(4.26,0.37),(4.265,0.28),(4.28,0.56),(4.29,0.32),(4.30,0.10),(4.31,0.16),(4.32,0.12),(4.33,0.30),(4.354,0.37),
(4.365,0.32),(4.37,0.12),(4.38,0.26),(4.395,0.22),(4.41,0.12),(4.426,0.18),(4.434,0.145),(4.44,0.16),(4.45,0.14),(4.457,0.16),
(4.47,0.21),(4.485,0.26),(4.495,0.18),(4.503,0.14),(4.515,0.17),(4.526,0.145),(4.534,0.12),(4.54,0.18),(4.55,0.21),(4.557,0.14),
(4.572,0.16),(4.58,0.14),(4.588,0.18),(4.595,0.21),(4.603,0.24),(4.61,0.12),(4.618,0.18),(4.626,0.26),(4.634,0.16),(4.64,0.21),
(4.65,0.28),(4.657,0.24),(4.665,0.14),(4.672,0.18),(4.688,0.22),(4.703,0.18),(4.71,0.12),(4.72,0.26),(4.726,0.10),(4.788,0.43),
(4.795,0.30),(4.806,0.26),(4.815,0.35),(4.834,0.18),(4.84,0.14),(4.857,0.56),(4.88,0.37),(4.888,0.49),(4.903,0.30),(4.923,0.52),
(4.94,0.32),(4.98,0.37),(4.985,0.43),(5.003,0.14),(5.006,0.52),(5.015,0.37),(5.043,0.43),(5.068,0.14),(5.08,0.56),(5.092,0.32),
(5.103,0.30),(5.115,0.37),(5.123,0.49),(5.14,0.43),(5.175,0.49),(5.21,0.56),(5.226,0.52),(5.24,0.28),(5.274,0.15),(5.28,0.10),
(5.28,0.089),(5.06,0.16),(4.857,0.18),(4.74,0.18),
]

# tick values / labels
m_ticks = [2.5, 5.0, 7.5, 10.0]
m_ticktext = ["2.5", "5.0", "7.5", "10.0"]
m_yticks = [2, 4, 6, 8, 10]
t_ticks = [4.0, 4.5, 5.0]
t_ticktext = ["4.0", "4.5", "5.0"]
t_yticks = [4.0, 4.2, 4.4, 4.6, 4.8, 5.0, 5.2]
t_yticktext = ["4.0", "4.2", "4.4", "4.6", "4.8", "5.0", "5.2"]
res_ticks = [1e-3, 1e-2, 1e-1, 1]
res_ticktext = ["10<sup>−3</sup>", "10<sup>−2</sup>", "10<sup>−1</sup>", "10<sup>0</sup>"]
res_minor = [k * 10.0 ** e for e in (-3, -2, -1) for k in range(2, 10)]

M_RANGE_X = [0.18, 10.28]
M_RANGE_Y = [0.22, 10.4]
T_RANGE_X = [3.955, 5.34]
T_RANGE_Y = [3.968, 5.35]

# the page body adds an 8 px margin; the figure fills the rest of the window
OFF = 8
W, H = 753 - OFF, 486 - OFF


def xs(pairs):
    return [p[0] for p in pairs]


def ys(pairs):
    return [p[1] for p in pairs]


def fx(px):
    return (px - OFF) / W


def fy(py):
    return 1 - (py - OFF) / H


LO_NAME = "NAE[<i>T</i><sub>vir</sub>] &lt;0.1"
HI_NAME = "NAE[<i>T</i><sub>vir</sub>] &gt;0.1"
MS = 3.5

fig = go.Figure()

panels = [
    (mwdm_lo, mwdm_hi, "x", "y", True),
    (mres_lo, mres_hi, "x2", "y2", False),
    (tvir_lo, tvir_hi, "x3", "y3", False),
    (tres_lo, tres_hi, "x4", "y4", False),
]
for lo, hi, xa, ya, show in panels:
    fig.add_trace(go.Scatter(x=xs(lo), y=ys(lo), mode="markers", xaxis=xa, yaxis=ya,
                             marker=dict(color=BLUE, size=MS, line=dict(width=0)),
                             name=LO_NAME, legendgroup="lo", showlegend=show))
    fig.add_trace(go.Scatter(x=xs(hi), y=ys(hi), mode="markers", xaxis=xa, yaxis=ya,
                             marker=dict(color=RED, size=MS, line=dict(width=0)),
                             name=HI_NAME, legendgroup="hi", showlegend=show))

# one-to-one lines
fig.add_trace(go.Scatter(x=[0, 11], y=[0, 11], mode="lines", xaxis="x", yaxis="y",
                         line=dict(color="#555555", width=0.8), showlegend=False, hoverinfo="skip"))
fig.add_trace(go.Scatter(x=[3.9, 5.4], y=[3.9, 5.4], mode="lines", xaxis="x3", yaxis="y3",
                         line=dict(color="#555555", width=0.8), showlegend=False, hoverinfo="skip"))

tickfont = dict(family=FONT, size=16, color="#222222")
base = dict(showline=True, linecolor="black", linewidth=1, ticks="outside", ticklen=4,
            tickwidth=1, tickcolor="black", showgrid=False, zeroline=False, tickfont=tickfont)

L_DOM = [fx(91), fx(391)]
R_DOM = [fx(453), 1.0]
TOP_DOM = [fy(334), fy(64)]
BOT_DOM = [fy(424), fy(343)]

minor = dict(tickmode="array", tickvals=res_minor, ticks="outside", ticklen=2,
             tickwidth=0.8, tickcolor="black", showgrid=False)

fig.update_layout(
    width=W, height=H, margin=dict(l=0, r=0, t=0, b=0, autoexpand=False),
    paper_bgcolor="white", plot_bgcolor="white",
    font=dict(family=FONT, color="#222222"),
    xaxis=dict(base, domain=L_DOM, anchor="y", range=M_RANGE_X, tickmode="array",
               tickvals=m_ticks, showticklabels=False, mirror=True),
    yaxis=dict(base, domain=TOP_DOM, anchor="x", range=M_RANGE_Y, tickmode="array",
               tickvals=m_yticks, mirror=True),
    xaxis2=dict(base, domain=L_DOM, anchor="y2", range=M_RANGE_X, tickmode="array",
                tickvals=m_ticks, ticktext=m_ticktext, mirror=True),
    yaxis2=dict(base, domain=BOT_DOM, anchor="x2", type="log", range=[-3, 0], tickmode="array",
                tickvals=res_ticks, ticktext=res_ticktext, mirror=True, minor=minor),
    xaxis3=dict(base, domain=R_DOM, anchor="y3", range=T_RANGE_X, tickmode="array",
                tickvals=t_ticks, showticklabels=False, mirror=True),
    yaxis3=dict(base, domain=TOP_DOM, anchor="x3", range=T_RANGE_Y, tickmode="array",
                tickvals=t_yticks, ticktext=t_yticktext, mirror=False),
    xaxis4=dict(base, domain=R_DOM, anchor="y4", range=T_RANGE_X, tickmode="array",
                tickvals=t_ticks, ticktext=t_ticktext, mirror=True),
    yaxis4=dict(base, domain=BOT_DOM, anchor="x4", type="log", range=[-3, 0], tickmode="array",
                tickvals=res_ticks, ticktext=res_ticktext, mirror=False, minor=minor),
    legend=dict(x=fx(539), y=fy(OFF - 9), xanchor="left", yanchor="top", bgcolor="rgba(0,0,0,0)",
                font=dict(family=FONT, size=17, color="#222222"), itemwidth=66,
                tracegroupgap=1),
    showlegend=True,
)

ann_font = dict(family=FONT, size=20, color="#222222")
annotations = [
    dict(text="Network", x=fx(38), y=fy(200), textangle=-90, font=ann_font),
    dict(text="Truth", x=fx(242), y=fy(471), font=ann_font),
    dict(text="Truth", x=fx(605), y=fy(471), font=ann_font),
    dict(text="<i>m</i><sub>WDM</sub>", x=fx(106), y=fy(90), xanchor="left",
         font=dict(family=FONT, size=22, color="#222222")),
    dict(text="log<sub>10</sub> <i>T</i><sub>vir</sub>", x=fx(467), y=fy(86), xanchor="left",
         font=dict(family=FONT, size=22, color="#222222")),
    dict(text="Net−True", x=fx(16), y=fy(385), textangle=-90,
         font=dict(family=FONT, size=11, color="#222222")),
    dict(text="Max−Min", x=fx(30), y=fy(385), textangle=-90,
         font=dict(family=FONT, size=11, color="#222222")),
]
for a in annotations:
    a.update(xref="paper", yref="paper", showarrow=False)
    a.setdefault("xanchor", "center")
    a.setdefault("yanchor", "middle")
fig.update_layout(annotations=annotations)

shapes = [
    dict(type="line", x0=fx(23), x1=fx(23), y0=fy(356), y1=fy(413), line=dict(color="black", width=1.2)),
    dict(type="line", x0=fx(11), x1=fx(35), y0=fy(350), y1=fy(350), line=dict(color="#444444", width=1.2)),
    dict(type="line", x0=fx(11), x1=fx(35), y0=fy(418), y1=fy(418), line=dict(color="#444444", width=1.2)),
]
for s in shapes:
    s.update(xref="paper", yref="paper")
fig.update_layout(shapes=shapes)

fig.write_html("out.html")
